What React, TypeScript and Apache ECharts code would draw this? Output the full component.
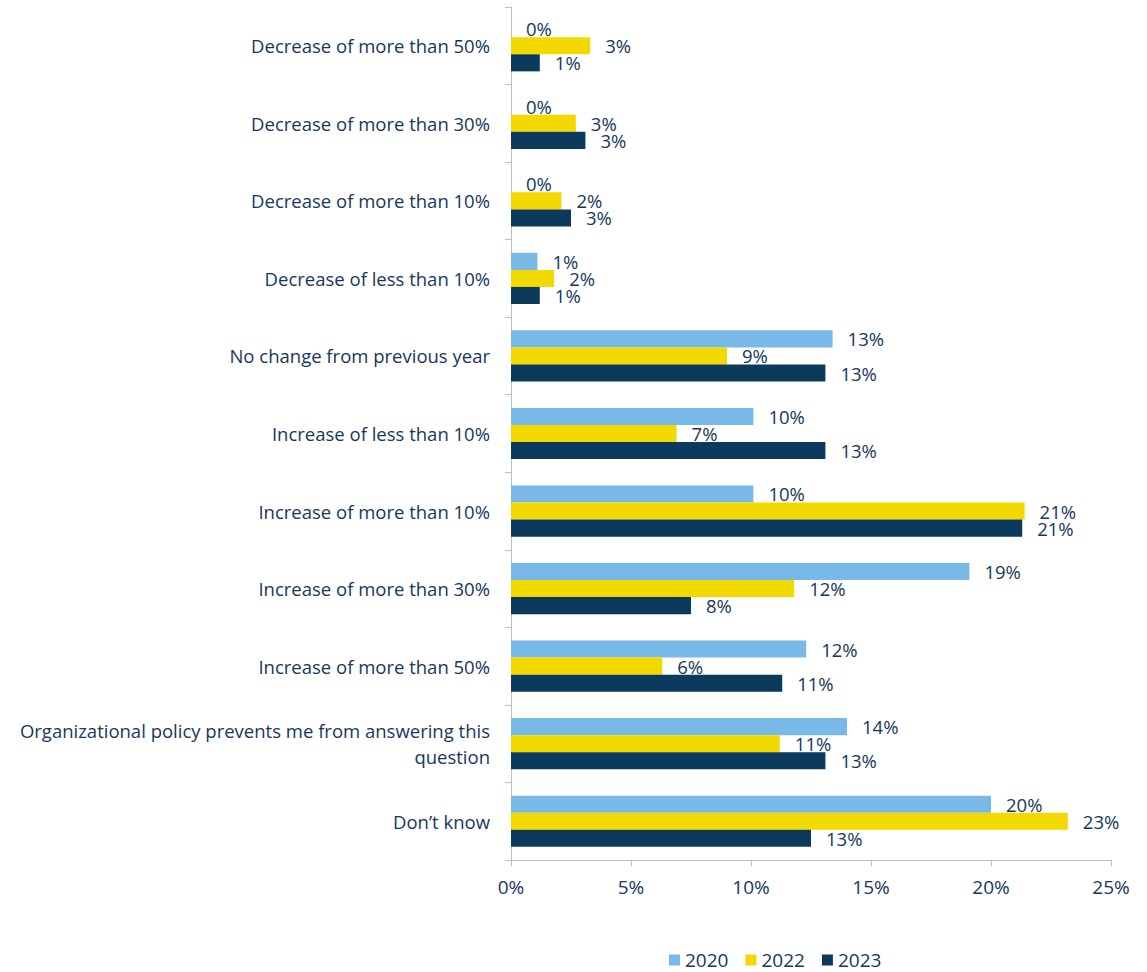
import React, { useEffect, useRef } from "react";
import * as echarts from "echarts";

const categories = [
  "Decrease of more than 50%",
  "Decrease of more than 30%",
  "Decrease of more than 10%",
  "Decrease of less than 10%",
  "No change from previous year",
  "Increase of less than 10%",
  "Increase of more than 10%",
  "Increase of more than 30%",
  "Increase of more than 50%",
  "Organizational policy prevents me from answering this question",
  "Don\u2019t know",
];

const values2020 = [0, 0, 0, 1.1, 13.4, 10.1, 10.1, 19.1, 12.3, 14.0, 20.0];
const values2022 = [3.3, 2.7, 2.1, 1.8, 9.0, 6.9, 21.4, 11.8, 6.3, 11.2, 23.2];
const values2023 = [1.2, 3.1, 2.5, 1.2, 13.1, 13.1, 21.3, 7.5, 11.3, 13.1, 12.5];

const xTicks = [0, 5, 10, 15, 20, 25];
const seriesNames = ["2020", "2022", "2023"];

const COLORS = ["#78B9E7", "#F2DA00", "#0B3A5D"];
const TEXT = "#17375E";
const FONT = "Open Sans";

export default function App() {
  const ref = useRef<HTMLDivElement>(null);
  useEffect(() => {
    document.body.style.margin = "0";
    const chart = echarts.init(ref.current!, null, { renderer: "svg" });
    const mk = (name: string, data: number[], i: number) => ({
      name,
      type: "bar",
      data,
      barGap: "0%",
      barCategoryGap: "34%",
      itemStyle: { color: COLORS[i] },
      label: {
        show: true,
        position: "right",
        distance: 15,
        color: TEXT,
        fontFamily: FONT,
        fontSize: 18.5,
        lineHeight: 17,
        formatter: (p: any) => Math.round(p.value) + "%",
      },
    });
    chart.setOption({
      animation: false,
      textStyle: { fontFamily: FONT },
      grid: { left: 511, right: 36, top: 7, bottom: 112, containLabel: false },
      legend: {
        top: 949,
        left: 669,
        data: seriesNames,
        icon: "rect",
        itemWidth: 11,
        itemHeight: 11,
        itemGap: 17,
        padding: 0,
        textStyle: { color: TEXT, fontFamily: FONT, fontSize: 19, lineHeight: 22 },
      },
      xAxis: {
        type: "value",
        min: xTicks[0],
        max: xTicks[xTicks.length - 1],
        interval: 5,
        axisLine: { show: true, lineStyle: { color: "#BFBFBF" } },
        axisTick: { show: true, length: 6, lineStyle: { color: "#BFBFBF" } },
        splitLine: { show: false },
        axisLabel: {
          color: TEXT,
          fontFamily: FONT,
          fontSize: 19,
          margin: 17,
          formatter: (v: number) => v + "%",
        },
      },
      yAxis: {
        type: "category",
        inverse: true,
        data: categories,
        axisLine: { show: true, lineStyle: { color: "#BFBFBF" } },
        axisTick: { show: true, length: 6, lineStyle: { color: "#BFBFBF" } },
        axisLabel: {
          color: TEXT,
          fontFamily: FONT,
          fontSize: 18.5,
          margin: 21,
          lineHeight: 26,
          align: "right",
          formatter: (v: string) => v.replace(" this question", " this\nquestion"),
        },
      },
      series: [
        mk(seriesNames[0], values2020, 0),
        mk(seriesNames[1], values2022, 1),
        mk(seriesNames[2], values2023, 2),
      ],
    });
    return () => chart.dispose();
  }, []);
  return <div ref={ref} style={{ width: 1147, height: 972 }} />;
}
